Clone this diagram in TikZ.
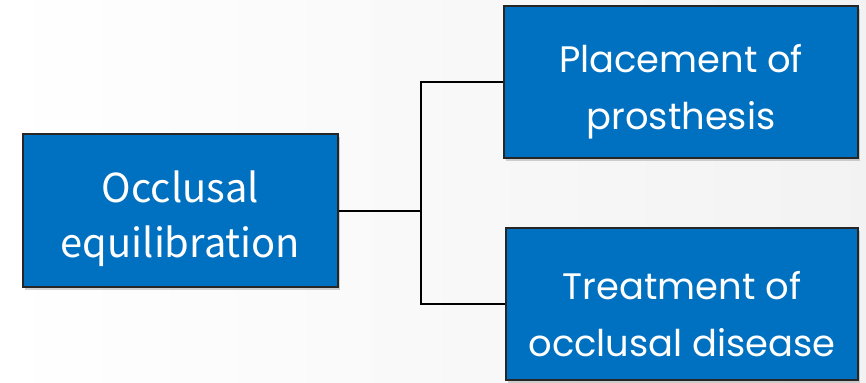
\documentclass[tikz,border=0pt]{standalone}
\usepackage{fontspec}
\usepackage{tikz}
\usetikzlibrary{shadows}
\setmainfont{Noto Sans CJK JP}
\newfontfamily\roundfont{Poppins}
\definecolor{boxblue}{HTML}{0070C0}
\newcommand{\toppad}{\rule{0pt}{48bp}}

\tikzset{
    topic/.style={draw=black!85, line width=1.4bp, fill=boxblue, text=white,
        align=center, inner sep=0pt,
        drop shadow={opacity=0.35, shadow xshift=2bp, shadow yshift=-3bp}},
    link/.style={draw=black, line width=2bp}
}

\begin{document}
\begin{tikzpicture}[x=1bp, y=-1bp]
    \shade[left color=white, right color=black!5] (0,0) rectangle (866,382);
    \useasboundingbox (0,0) rectangle (866,382);

    \node[topic, minimum width=315bp, minimum height=153bp,
        font=\fontsize{40}{55}\selectfont] (equil) at (180.5,210.5)
        {\toppad Occlusal\\equilibration};
    \node[topic, minimum width=354bp, minimum height=152bp,
        font=\roundfont\fontsize{37}{57}\selectfont] (prosth) at (681,82)
        {\toppad Placement of\\prosthesis};
    \node[topic, minimum width=352bp, minimum height=152bp,
        font=\roundfont\fontsize{37}{57}\selectfont] (disease) at (682,304)
        {\toppad Treatment of\\occlusal disease};

    \coordinate (bus) at (421,211);
    \draw[link] (equil.east) -- (equil.east -| bus);
    \draw[link] (prosth.west) -| (bus) |- (disease.west);
\end{tikzpicture}
\end{document}
